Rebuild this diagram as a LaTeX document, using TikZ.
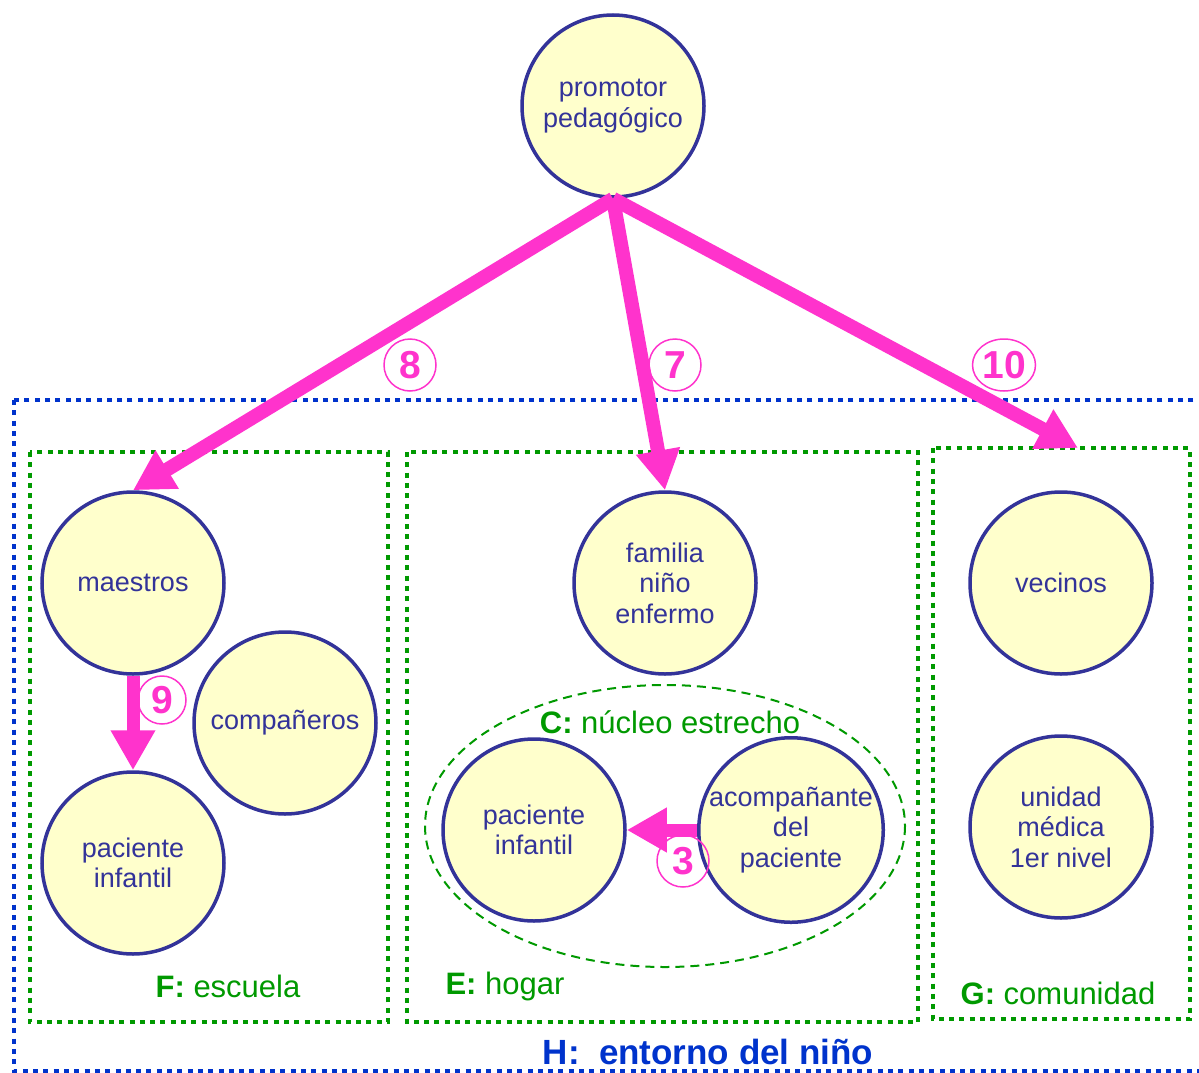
\documentclass[tikz,border=0pt]{standalone}
\usepackage{fontspec}
\setmainfont{Liberation Sans}
\usetikzlibrary{arrows.meta, shapes.geometric}
\definecolor{navy}{RGB}{51,51,153}
\definecolor{cream}{RGB}{255,255,204}
\definecolor{pink}{RGB}{255,51,204}
\definecolor{leaf}{RGB}{0,153,0}
\definecolor{royal}{RGB}{0,51,204}

\begin{document}
\begin{tikzpicture}[x=1pt, y=-1pt,
actor/.style={circle, draw=navy, line width=3.5pt, fill=cream, minimum size=182pt,
  inner sep=0pt, align=center, text=navy, font=\fontsize{27}{30.5}\selectfont},
area/.style={draw=leaf, line width=4.5pt, dash pattern=on 5pt off 5.3pt},
link/.style={draw=pink, line width=14pt, -{Triangle[length=40pt, width=42pt]}},
num/.style={circle, draw=pink, line width=1.5pt, minimum size=52pt, inner sep=0pt,
  text=pink, font=\fontsize{39}{39}\selectfont\bfseries},
tag/.style={text=leaf, font=\fontsize{31}{34}\selectfont}]
\useasboundingbox (0,0) rectangle (1199,1073);
% entorno y sus tres zonas
\draw [draw=royal, line width=4.5pt, dash pattern=on 5pt off 5.3pt] (14,400) rectangle (1215,1071);
\node at (708,1052) [text=royal, font=\fontsize{35}{38}\selectfont\bfseries] {H:\ \ entorno del niño};
\draw [area] (30,452) rectangle (388,1022);
\draw [area] (407,452) rectangle (918,1022);
\draw [area] (933,448) rectangle (1190,1019);
\node at (228,986) [tag] {\textbf{F:} escuela};
\node at (505,986) [tag] {\textbf{E:} hogar};
\node at (1058,993) [tag] {\textbf{G:} comunidad};
\draw [leaf, line width=2pt, dash pattern=on 9pt off 6pt] (665,826) ellipse [x radius=240, y radius=141];
\node at (670,722) [tag] {\textbf{C:} núcleo estrecho};
% actores
\node (promotor) at (613,106) [actor] {promotor\\pedagógico};
\node (maestros) at (133,583) [actor] {maestros};
\node (companeros) at (285,723) [actor] {compañeros};
\node (alumno) at (133,863) [actor] {paciente\\infantil};
\node (familia) at (665,583) [actor] {familia\\niño\\enfermo};
\node (paciente) at (534,830) [actor] {paciente\\infantil};
\node (acompanante) at (791,830) [actor] {acompañante\\del\\paciente};
\node (vecinos) at (1061,583) [actor] {vecinos};
\node (unidad) at (1061,827) [actor] {unidad\\médica\\1er nivel};
\coordinate (comunidad) at (1078,448);
% relaciones
\draw [link] (promotor.south) -- (maestros.north);
\draw [link] (promotor.south) -- (familia.north);
\draw [link] (promotor.south) -- (comunidad);
\draw [link, line width=13pt] (maestros.south) -- (alumno.north);
\draw [link, line width=13pt] (acompanante.west) -- (paciente.east);
\node (n8) at (410,365) [num] {8};
\node (n7) at (675,365) [num] {7};
\node (n10) at (1004,365) [num, ellipse, minimum width=63pt, minimum height=52pt] {10};
\node (n9) at (162,700) [num, minimum size=48pt] {9};
\node (n3) at (683,861) [num] {3};
\end{tikzpicture}
\end{document}
